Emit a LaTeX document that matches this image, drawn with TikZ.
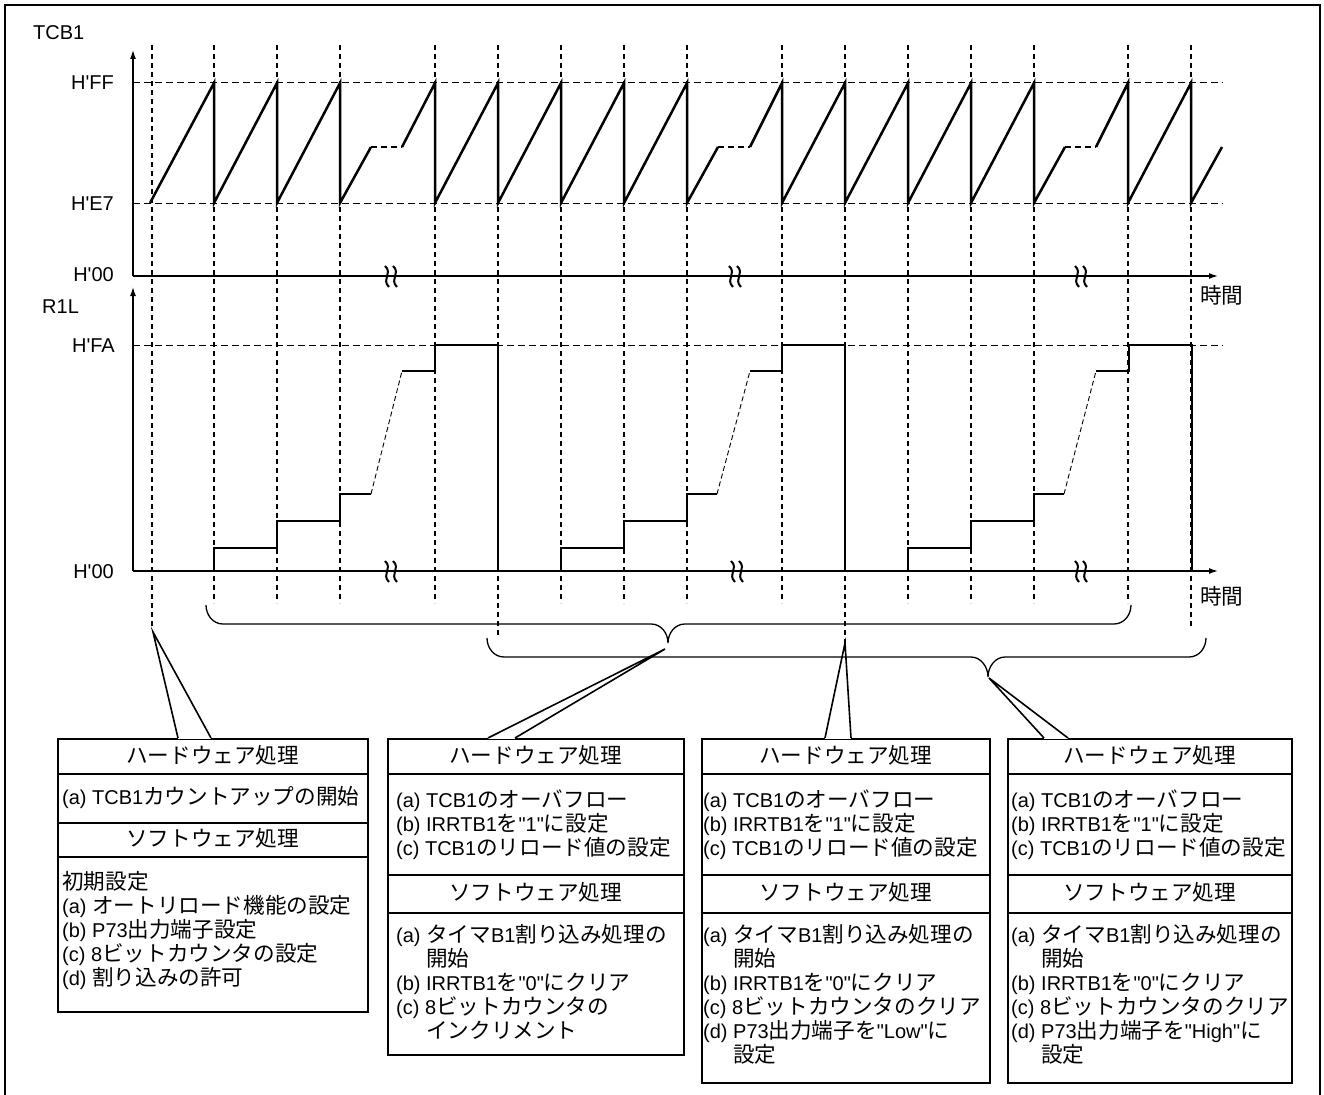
\documentclass[tikz,border=0pt]{standalone}
\usepackage{fontspec}
\usetikzlibrary{arrows.meta}
\newfontfamily\lafont{Liberation Sans}
\newfontfamily\jpfont{Noto Sans CJK JP}[Scale=1.08]
\XeTeXinterchartokenstate=1
\chardef\jpclass=20
\newcount\jpcnt
\jpcnt="3000
\loop\XeTeXcharclass\jpcnt=\jpclass\advance\jpcnt by 1 \ifnum\jpcnt<"3100 \repeat
\jpcnt="4E00
\loop\XeTeXcharclass\jpcnt=\jpclass\advance\jpcnt by 1 \ifnum\jpcnt<"A000 \repeat
\jpcnt="FF00
\loop\XeTeXcharclass\jpcnt=\jpclass\advance\jpcnt by 1 \ifnum\jpcnt<"FFF0 \repeat
\XeTeXinterchartoks 0 \jpclass = {\jpfont}
\XeTeXinterchartoks 4095 \jpclass = {\jpfont}
\XeTeXinterchartoks \jpclass 0 = {\lafont}
\XeTeXinterchartoks \jpclass 4095 = {\lafont}
\begin{document}
\begin{tikzpicture}[x=1pt,y=-1pt,
  txt/.style={font=\lafont\fontsize{20}{24}\selectfont, text height=17pt, text depth=3pt, inner sep=0pt},
  wave/.style={line width=2.5pt, line join=miter},
  axis/.style={line width=1.3pt},
  arr/.style={-{Latex[length=9pt,width=6pt]}},
  vdash/.style={line width=1.1pt, dash pattern=on 5pt off 4pt},
  hdash/.style={line width=1pt, dash pattern=on 7pt off 4pt},
  gapdash/.style={line width=1.4pt, dash pattern=on 6pt off 4pt},
  slopedash/.style={line width=0.9pt, dash pattern=on 5pt off 3pt},
  brace/.style={line width=1.3pt},
  callout/.style={line width=1.6pt, line join=miter},
  brk/.style={line width=2pt},
  sect/.style={draw, line width=1.5pt, anchor=north west, inner sep=0pt}]
\useasboundingbox (0,0) rectangle (1324,1094);
\fill[white] (0,0) rectangle (1324,1094);
\draw[line width=2pt] (5,5) rectangle (1320,1100);

% ---------- grid lines ----------
\foreach \gx/\gb in {152/627, 214/603, 277/603, 340/603, 435/603, 498/638, 561/603, 624/603, 687/603, 782/603, 845/643, 908/603, 971/603, 1034/603, 1128/603, 1191/627}
  \draw[vdash] (\gx,45) -- (\gx,\gb);
\coordinate (ffL) at (133,83);  \coordinate (ffR) at (1223,83);
\coordinate (e7L) at (133,203); \coordinate (e7R) at (1223,203);
\coordinate (faL) at (133,345); \coordinate (faR) at (1223,345);
\draw[hdash] (ffL) -- (ffR);
\draw[hdash] (e7L) -- (e7R);
\draw[hdash] (faL) -- (faR);

% ---------- axes ----------
\coordinate (o1) at (133,276); \coordinate (y1) at (133,50); \coordinate (x1) at (1218,276);
\coordinate (o2) at (133,571); \coordinate (y2) at (133,287); \coordinate (x2) at (1218,571);
\draw[axis,arr] (o1) -- (y1);
\draw[axis,arr] (o1) -- (x1);
\draw[axis,arr] (o2) -- (y2);
\draw[axis,arr] (o2) -- (x2);
\foreach \bx/\by in {391/276, 735/276, 1081/276, 391/571, 737/571, 1081/571}
  \foreach \dx in {-4,4}
    \draw[brk] (\bx+\dx-2,\by-10) .. controls (\bx+\dx+6,\by-3) and (\bx+\dx-6,\by+3) .. (\bx+\dx+2,\by+11);

% ---------- labels ----------
\node[txt, anchor=west] (lT) at (33,33) {TCB1};
\node[txt, anchor=east] (lFF) at (114,83) {H'FF};
\node[txt, anchor=east] (lE7) at (114,203) {H'E7};
\node[txt, anchor=east] (l00a) at (114,274) {H'00};
\node[txt, anchor=west] (lR) at (42,306) {R1L};
\node[txt, anchor=east] (lFA) at (115,345) {H'FA};
\node[txt, anchor=east] (l00b) at (114,571) {H'00};
\node[txt, anchor=west] (t1) at (1200,296) {時間};
\node[txt, anchor=west] (t2) at (1200,597) {時間};

% ---------- TCB1 waveform ----------
\draw[wave] (150,203) -- (214,83) -- (214,203) -- (277,83) -- (277,203) -- (340,83) -- (340,203) -- (371,147);
\draw[gapdash] (371,147) -- (402,147);
\draw[wave] (402,147) -- (435,83) -- (435,203) -- (498,83) -- (498,203) -- (561,83) -- (561,203) -- (624,83) -- (624,203) -- (687,83) -- (687,203) -- (718,147);
\draw[gapdash] (718,147) -- (750,147);
\draw[wave] (750,147) -- (782,83) -- (782,203) -- (845,83) -- (845,203) -- (908,83) -- (908,203) -- (971,83) -- (971,203) -- (1034,83) -- (1034,203) -- (1065,147);
\draw[gapdash] (1065,147) -- (1096,147);
\draw[wave] (1096,147) -- (1128,83) -- (1128,203) -- (1191,83) -- (1191,203) -- (1222,147);

% ---------- R1L waveform ----------
\foreach \s/\d/\r in {214/371/402, 561/717/750, 908/1064/1096} {
  \draw[wave] (\s,571) -- (\s,548) -- (\s+63,548) -- (\s+63,521) -- (\s+126,521) -- (\s+126,494) -- (\d,494);
  \draw[slopedash] (\d,494) -- (\r,371);
  \draw[wave] (\r,371) -- (\s+221,371) -- (\s+221,345) -- (\s+284,345) -- (\s+284,571);
}

% ---------- braces ----------
\draw[brace] (206,605) .. controls (206,615) and (213,624) .. (223,624) -- (651,624)
  .. controls (661,624) and (668,633) .. (668,643) .. controls (668,633) and (675,624) .. (685,624)
  -- (1114,624) .. controls (1124,624) and (1131,615) .. (1131,605);
\draw[brace] (487,638) .. controls (487,648) and (494,657) .. (504,657) -- (971,657)
  .. controls (981,657) and (988,667) .. (988,677) .. controls (988,667) and (995,657) .. (1005,657)
  -- (1189,657) .. controls (1199,657) and (1206,648) .. (1206,638);

% ---------- boxes ----------
\node[sect, minimum width=310pt, minimum height=35pt] (b1a) at (57,738) {};
\node[sect, minimum width=310pt, minimum height=49pt] (b1b) at (57,773) {};
\node[sect, minimum width=310pt, minimum height=34pt] (b1c) at (57,822) {};
\node[sect, minimum width=310pt, minimum height=155pt] (b1d) at (57,856) {};

\node[sect, minimum width=296pt, minimum height=35pt] (b2a) at (387,738) {};
\node[sect, minimum width=296pt, minimum height=101pt] (b2b) at (387,773) {};
\node[sect, minimum width=296pt, minimum height=38pt] (b2c) at (387,874) {};
\node[sect, minimum width=296pt, minimum height=142pt] (b2d) at (387,912) {};

\node[sect, minimum width=288pt, minimum height=35pt] (b3a) at (701,738) {};
\node[sect, minimum width=288pt, minimum height=101pt] (b3b) at (701,773) {};
\node[sect, minimum width=288pt, minimum height=38pt] (b3c) at (701,874) {};
\node[sect, minimum width=288pt, minimum height=170pt] (b3d) at (701,912) {};

\node[sect, minimum width=284pt, minimum height=35pt] (b4a) at (1007,738) {};
\node[sect, minimum width=284pt, minimum height=101pt] (b4b) at (1007,773) {};
\node[sect, minimum width=284pt, minimum height=38pt] (b4c) at (1007,874) {};
\node[sect, minimum width=284pt, minimum height=170pt] (b4d) at (1007,912) {};

% ---------- callouts ----------
\coordinate (c1) at (153,632); \coordinate (c1a) at (178,738); \coordinate (c1b) at (211,738);
\coordinate (c2) at (665,649); \coordinate (c2a) at (488,738); \coordinate (c2b) at (515,738);
\coordinate (c3) at (845,643); \coordinate (c3a) at (825,738); \coordinate (c3b) at (851,738);
\coordinate (c4) at (989,678); \coordinate (c4a) at (1044,738); \coordinate (c4b) at (1068,738);
\foreach \c in {c1,c2,c3,c4} {
  \draw[white, line width=2.6pt] (\c a) -- (\c b);
  \draw[callout] (\c a) -- (\c) -- (\c b);
}

% ---------- box texts ----------
\node[txt] (h1a) at (b1a.center) {ハードウェア処理};
\node[txt, anchor=west] (h1b) at (62,797) {(a) TCB1カウントアップの開始};
\node[txt] (h1c) at (b1c.center) {ソフトウェア処理};
\foreach \t [count=\i from 0] in {{初期設定},{(a) オートリロード機能の設定},{(b) P73出力端子設定},{(c) 8ビットカウンタの設定},{(d) 割り込みの許可}}
  \node[txt, anchor=west] (s1\i) at (62,882+24*\i) {\t};

\node[txt] (h2a) at (b2a.center) {ハードウェア処理};
\node[txt] (h2c) at (b2c.center) {ソフトウェア処理};
\node[txt] (h3a) at (b3a.center) {ハードウェア処理};
\node[txt] (h3c) at (b3c.center) {ソフトウェア処理};
\node[txt] (h4a) at (b4a.center) {ハードウェア処理};
\node[txt] (h4c) at (b4c.center) {ソフトウェア処理};

\foreach \bx/\bn in {396/2, 703/3, 1011/4}
  \foreach \t [count=\i from 0] in {{(a) TCB1のオーバフロー},{(b) IRRTB1を"1"に設定},{(c) TCB1のリロード値の設定}}
    \node[txt, anchor=west] (w\bn\i) at (\bx,800+24*\i) {\t};

\foreach \t [count=\i from 0] in {{(a) タイマB1割り込み処理の},{\hspace*{30pt}開始},{(b) IRRTB1を"0"にクリア},{(c) 8ビットカウンタの},{\hspace*{30pt}インクリメント}}
  \node[txt, anchor=west] (s2\i) at (396,935+24*\i) {\t};
\foreach \t [count=\i from 0] in {{(a) タイマB1割り込み処理の},{\hspace*{30pt}開始},{(b) IRRTB1を"0"にクリア},{(c) 8ビットカウンタのクリア},{(d) P73出力端子を"Low"に},{\hspace*{30pt}設定}}
  \node[txt, anchor=west] (s3\i) at (703,935+24*\i) {\t};
\foreach \t [count=\i from 0] in {{(a) タイマB1割り込み処理の},{\hspace*{30pt}開始},{(b) IRRTB1を"0"にクリア},{(c) 8ビットカウンタのクリア},{(d) P73出力端子を"High"に},{\hspace*{30pt}設定}}
  \node[txt, anchor=west] (s4\i) at (1011,935+24*\i) {\t};
\end{tikzpicture}
\end{document}
